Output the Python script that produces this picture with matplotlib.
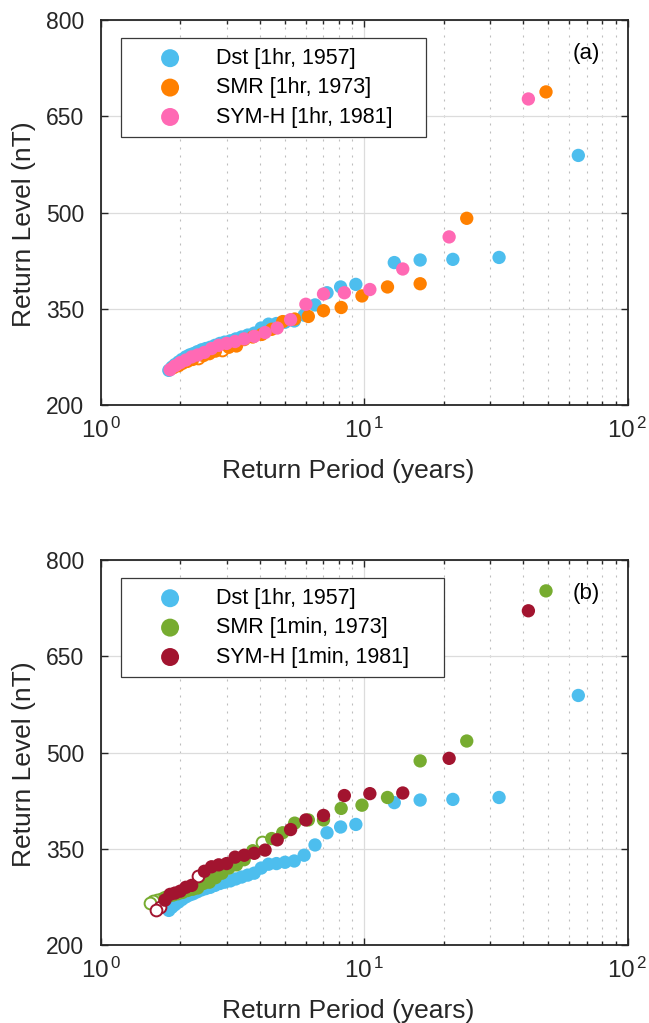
import matplotlib
matplotlib.use('Agg')
import matplotlib.pyplot as plt
from matplotlib.ticker import LogLocator, FixedLocator, NullFormatter, FuncFormatter
import numpy as np

plt.rcParams['font.family'] = ['Liberation Sans', 'DejaVu Sans']
plt.rcParams['mathtext.fontset'] = 'custom'
plt.rcParams['mathtext.rm'] = 'Liberation Sans'
plt.rcParams['mathtext.it'] = 'Liberation Sans:italic'
plt.rcParams['mathtext.bf'] = 'Liberation Sans:bold'

# ---------------- data ----------------
dst_T = [65.0, 32.5, 21.7, 16.3, 13.0, 9.29, 8.13, 7.22, 6.50, 5.91, 5.42, 5.00,
         4.64, 4.33, 4.06, 3.82, 3.61, 3.42, 3.25, 3.10, 2.95, 2.83, 2.71, 2.60,
         2.50, 2.41, 2.32, 2.24, 2.17, 2.10, 2.03, 1.97, 1.91, 1.86, 1.81]
dst_L = [589, 430, 427, 426, 422, 388, 384, 375, 356, 340, 331, 329,
         327, 326, 320, 312, 309, 306, 303, 300, 298, 296, 293, 290,
         288, 286, 283, 280, 278, 275, 271, 267, 263, 259, 254]
dst_open = []

smr1h_T = [49.0, 24.5, 16.3, 12.25, 9.80, 8.17, 7.00, 6.13, 5.44, 4.90, 4.45, 4.08,
           3.77, 3.50, 3.27, 3.06, 2.88, 2.72, 2.58, 2.45, 2.33, 2.23, 2.13, 2.04,
           1.96, 1.88]
smr1h_L = [688, 491, 389, 384, 370, 352, 347, 338, 334, 330, 318, 310,
           306, 302, 292, 290, 286, 284, 280, 277, 273, 271, 268, 265,
           262, 258]
smr1h_open = [16, 20, 24]

symh1h_T = [42.0, 21.0, 14.0, 10.5, 8.40, 7.00, 6.00, 5.25, 4.67, 4.20, 3.82, 3.50,
            3.23, 3.00, 2.80, 2.63, 2.47, 2.33, 2.21, 2.10, 2.00, 1.91, 1.83]
symh1h_L = [677, 462, 412, 380, 375, 373, 357, 333, 320, 313, 307, 303,
            299, 296, 293, 288, 282, 278, 275, 270, 266, 261, 255]
symh1h_open = []

smr1m_T = [49.0, 24.5, 16.3, 12.25, 9.80, 8.17, 7.00, 6.13, 5.44, 4.90, 4.45, 4.08,
           3.77, 3.50, 3.27, 3.06, 2.88, 2.72, 2.58, 2.45, 2.33, 2.23, 2.13, 2.04,
           1.96, 1.88, 1.81, 1.75, 1.69, 1.63, 1.58, 1.53]
smr1m_L = [752, 518, 487, 430, 418, 413, 395, 395, 390, 375, 366, 361,
           347, 333, 325, 320, 312, 305, 298, 296, 289, 287, 285, 282,
           280, 278, 276, 274, 272, 270, 268, 266]
smr1m_open = [11, 28, 29, 30, 31]

symh1m_T = [42.0, 21.0, 14.0, 10.5, 8.40, 7.00, 6.00, 5.25, 4.67, 4.20, 3.82, 3.50,
            3.23, 3.00, 2.80, 2.63, 2.47, 2.33, 2.21, 2.10, 2.00, 1.91, 1.83, 1.75,
            1.68, 1.62]
symh1m_L = [721, 491, 437, 436, 433, 402, 395, 380, 364, 348, 343, 340,
            337, 327, 325, 322, 315, 308, 293, 290, 284, 281, 279, 270,
            260, 254]
symh1m_open = [17, 24, 25]

y_ticks = [200, 350, 500, 650, 800]

C_DST = '#4DBEEE'
C_SMR1H = '#FF8000'
C_SYMH1H = '#FF69B4'
C_SMR1M = '#77AC30'
C_SYMH1M = '#A2142F'
DARK = '#262626'

fig = plt.figure(figsize=(6.49, 10.23), dpi=100)
ax_a = fig.add_axes([0.1556, 0.6041, 0.8114, 0.3763])
ax_b = fig.add_axes([0.1556, 0.0762, 0.8114, 0.3763])


def plot_series(ax, T, L, open_idx, color, label):
    T = np.asarray(T, float)
    L = np.asarray(L, float)
    h = np.zeros(len(T), bool)
    h[list(open_idx)] = True
    if h.any():
        ax.scatter(T[h], L[h], s=72, facecolors='white', edgecolors=color,
                   linewidths=1.4, zorder=3)
    return ax.scatter(T[~h], L[~h], s=92, c=color, edgecolors='none',
                      label=label, zorder=3)


def pow_fmt(v, pos):
    e = int(round(np.log10(v)))
    return r'$\mathregular{10^{\,%d}}$' % e


def style(ax, tag, leg_w):
    ax.set_xscale('log')
    ax.set_xlim(1, 100)
    ax.set_ylim(200, 800)
    ax.yaxis.set_major_locator(FixedLocator(y_ticks))
    ax.xaxis.set_major_locator(LogLocator(base=10, numticks=5))
    ax.xaxis.set_major_formatter(FuncFormatter(pow_fmt))
    ax.xaxis.set_minor_locator(LogLocator(base=10, subs=np.arange(2, 10), numticks=20))
    ax.xaxis.set_minor_formatter(NullFormatter())
    ax.set_axisbelow(True)
    ax.grid(which='major', axis='both', color='#dcdcdc', lw=0.9, ls='-')
    ax.grid(which='minor', axis='x', color='#bdbdbd', lw=0.8, ls=(0, (1.8, 5.4)))
    ax.tick_params(which='both', direction='in', top=True, right=True,
                   color=DARK, width=1.0, labelcolor=DARK)
    ax.tick_params(which='major', length=5)
    ax.tick_params(which='minor', length=3)
    ax.tick_params(axis='y', labelsize=16.5, pad=12)
    ax.tick_params(axis='x', labelsize=17.5, pad=9)
    for sp in ax.spines.values():
        sp.set_linewidth(1.3)
        sp.set_color(DARK)
    ax.set_ylabel('Return Level (nT)', fontsize=19, color=DARK)
    ax.yaxis.set_label_coords(-0.123, 0.469)
    ax.set_xlabel('Return Period (years)', fontsize=19, color=DARK)
    ax.xaxis.set_label_coords(0.469, -0.139)
    ax.text(0.921, 0.914, tag, transform=ax.transAxes, fontsize=16,
            ha='center', va='center', color='black')
    leg = ax.legend(loc='upper left', bbox_to_anchor=(0.038, 0.0, leg_w, 0.953),
                    mode='expand', borderaxespad=0, fontsize=15.5,
                    handlelength=3.66, handletextpad=0.31, borderpad=0.45,
                    labelspacing=0.39, markerscale=1.35, scatterpoints=1,
                    fancybox=False, framealpha=1, edgecolor='#3a3a3a')
    leg.get_frame().set_linewidth(0.9)


plot_series(ax_a, dst_T, dst_L, dst_open, C_DST, 'Dst [1hr, 1957]')
plot_series(ax_a, smr1h_T, smr1h_L, smr1h_open, C_SMR1H, 'SMR [1hr, 1973]')
plot_series(ax_a, symh1h_T, symh1h_L, symh1h_open, C_SYMH1H, 'SYM-H [1hr, 1981]')
style(ax_a, '(a)', 0.579)

plot_series(ax_b, dst_T, dst_L, dst_open, C_DST, 'Dst [1hr, 1957]')
plot_series(ax_b, smr1m_T, smr1m_L, smr1m_open, C_SMR1M, 'SMR [1min, 1973]')
plot_series(ax_b, symh1m_T, symh1m_L, symh1m_open, C_SYMH1M, 'SYM-H [1min, 1981]')
style(ax_b, '(b)', 0.613)

fig.savefig('out.png', dpi=100)
